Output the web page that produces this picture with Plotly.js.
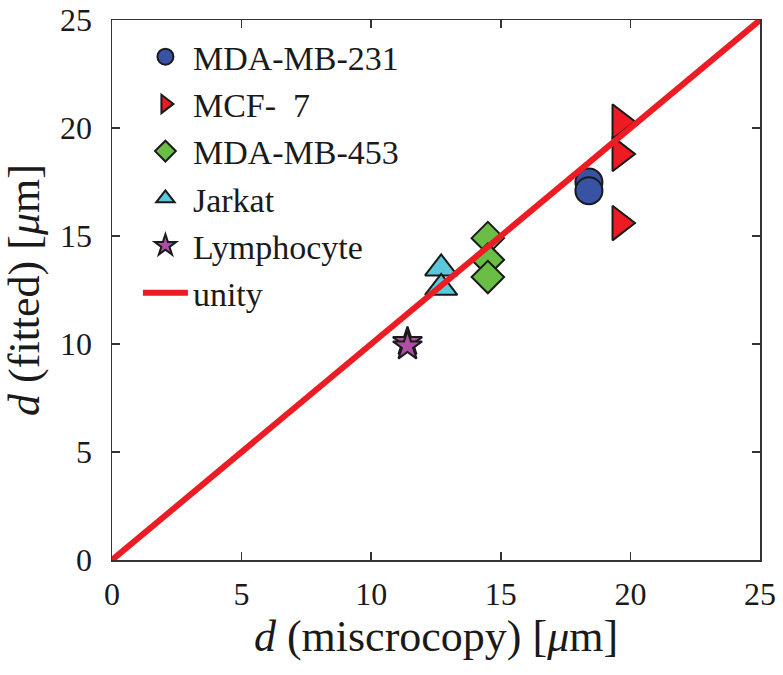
<!DOCTYPE html>
<html>
<head>
<meta charset="utf-8">
<script src="https://cdn.plot.ly/plotly-3.0.1.min.js"></script>
<style>html,body{margin:0;padding:0;background:#fff;}#chart{width:783px;height:675px;}</style>
</head>
<body>
<div id="chart"></div>
<script>
// Data
const mda231X = [18.4, 18.4];
const mda231Y = [17.5, 17.1];
const mcf7X = [19.6, 19.6, 19.6];
const mcf7Y = [20.3, 18.8, 15.6];
const mda453X = [14.5, 14.5, 14.5];
const mda453Y = [14.9, 13.9, 13.1];
const jarkatX = [12.7, 12.7];
const jarkatY = [13.5, 12.6];
const lymphX = [11.4, 11.4];
const lymphY = [10.1, 9.9];
const unityX = [0, 25];
const unityY = [0, 25];
const tickVals = [0, 5, 10, 15, 20, 25];

const mline = {color: '#1a1a1a', width: 2};
const traces = [
  {x: mda231X, y: mda231Y, name: 'MDA-MB-231', mode: 'markers', type: 'scatter',
   marker: {symbol: 'circle', size: 27, color: '#3953a4', line: mline}},
  {x: mcf7X, y: mcf7Y, name: 'MCF-  7', mode: 'markers', type: 'scatter',
   marker: {symbol: 'triangle-right', size: 30, color: '#ed1c24', line: mline}},
  {x: mda453X, y: mda453Y, name: 'MDA-MB-453', mode: 'markers', type: 'scatter',
   marker: {symbol: 'diamond', size: 25, color: '#6abd45', line: mline}},
  {x: jarkatX, y: jarkatY, name: 'Jarkat', mode: 'markers', type: 'scatter',
   marker: {symbol: 'triangle-up', size: 28, color: '#5bc8dc', line: mline}},
  {x: lymphX, y: lymphY, name: 'Lymphocyte', mode: 'markers', type: 'scatter',
   marker: {symbol: 'star', size: 22, color: '#b04ea6', line: mline}},
  {x: unityX, y: unityY, name: 'unity', mode: 'lines', type: 'scatter',
   line: {color: '#ed1c24', width: 6}}
];

const serif = "'Liberation Serif', 'Times New Roman', serif";
const axisCommon = {
  range: [0, 25], tickvals: tickVals, ticks: 'inside', ticklen: 8, tickwidth: 1.5,
  tickcolor: '#333', showline: true, linecolor: '#333', linewidth: 1.5, mirror: 'ticks',
  showgrid: false, zeroline: false, ticklabeloverflow: 'allow',
  tickfont: {family: serif, size: 32, color: '#1a1a1a'}
};

const layout = {
  width: 783, height: 675,
  margin: {l: 112, r: 23, t: 20, b: 115},
  paper_bgcolor: '#fff', plot_bgcolor: '#fff',
  showlegend: true,
  legend: {x: 0.04, y: 0.985, xanchor: 'left', yanchor: 'top', bgcolor: 'rgba(0,0,0,0)',
           font: {family: serif, size: 34, color: '#1a1a1a'}, itemwidth: 45},
  xaxis: Object.assign({}, axisCommon, {
    title: {text: '<i>d</i> (miscrocopy) [<i>μ</i>m]', font: {family: serif, size: 44, color: '#1a1a1a'}, standoff: 8},
    ticklabelstandoff: 5
  }),
  yaxis: Object.assign({}, axisCommon, {
    title: {text: '<i>d</i> (fitted) [<i>μ</i>m]', font: {family: serif, size: 44, color: '#1a1a1a'}, standoff: 12},
    ticklabelstandoff: 12
  })
};

Plotly.newPlot('chart', traces, layout, {displayModeBar: false, staticPlot: true});
</script>
</body>
</html>
